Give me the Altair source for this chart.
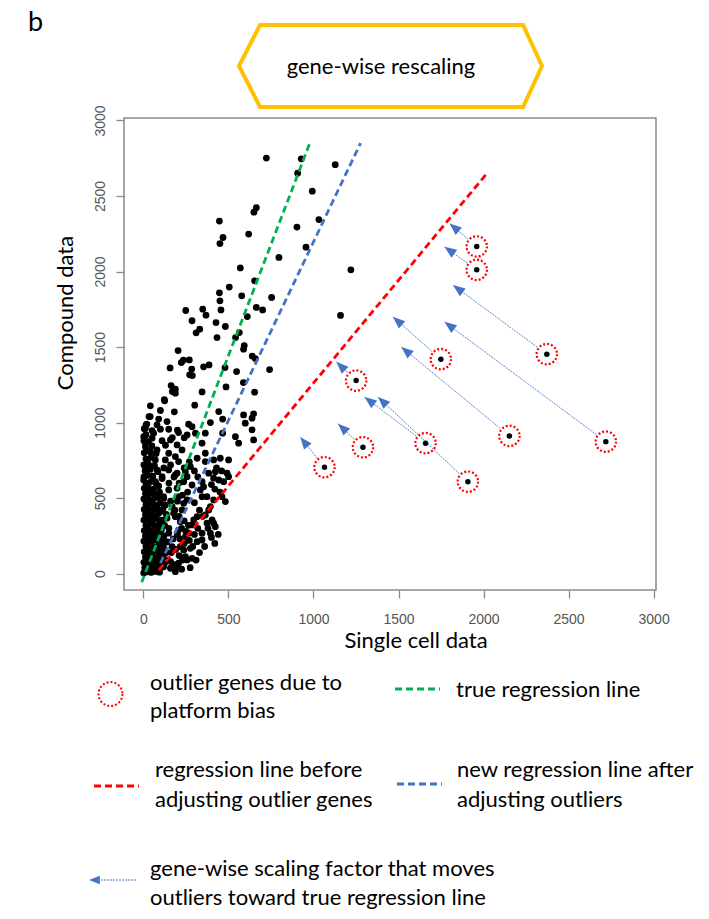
import math
import altair as alt
import pandas as pd

# ---------------- data ----------------
upper_points = [
    (723, 2751), (928, 2746), (907, 2651), (1128, 2707), (993, 2532), (664, 2422), (650, 2393),
    (447, 2334), (1032, 2344), (903, 2294), (619, 2248), (468, 2225), (450, 2185), (956, 2161),
    (797, 2093), (1220, 2011), (570, 2024), (654, 1938), (505, 1897), (447, 1859), (578, 1839),
    (754, 1828), (450, 1806), (456, 1746), (249, 1742), (349, 1751), (368, 1711), (664, 1762),
    (701, 1746), (611, 1702), (1159, 1709), (286, 1674), (427, 1662), (482, 1636), (331, 1618),
    (310, 1594), (564, 1596), (433, 1563), (542, 1563), (593, 1510), (589, 1486), (204, 1477),
    (640, 1440), (658, 1424), (235, 1413), (270, 1415), (223, 1397), (157, 1362), (284, 1354),
    (354, 1369), (386, 1382), (480, 1364), (548, 1338), (742, 1351), (272, 1316), (288, 1311),
    (588, 1265), (163, 1245), (188, 1221), (170, 1205), (345, 1203), (486, 1236), (654, 1201),
    (123, 1152), (188, 1195),
]
middle_points = [
    (41, 1111), (125, 1144), (182, 1071), (302, 1115), (443, 1073), (466, 1023), (589, 1051),
    (648, 1058), (90, 1023), (139, 1007), (16, 985), (266, 989), (394, 1000), (599, 996),
    (51, 947), (100, 956), (149, 956), (207, 934), (257, 918), (306, 930), (2, 907), (12, 864),
    (159, 885), (198, 852), (345, 864), (364, 930), (466, 930), (541, 907), (560, 864),
    (639, 952), (648, 885), (41, 808), (80, 819), (227, 819), (22, 753), (70, 753), (129, 753),
    (149, 797), (188, 775), (207, 742), (276, 709), (316, 764), (364, 797), (413, 753),
    (364, 742), (452, 764), (501, 753), (384, 665), (413, 632), (443, 620), (472, 609),
    (345, 609), (12, 687), (80, 687), (149, 687), (188, 654), (247, 675), (2, 620), (70, 609),
    (110, 642), (237, 609), (286, 587), (335, 554), (374, 510), (345, 510), (413, 488),
    (462, 510), (482, 477), (384, 422), (404, 356), (423, 311), (374, 334), (316, 377),
    (286, 323), (345, 268), (316, 212), (266, 268), (276, 168), (247, 113), (286, 102),
    (207, 69), (188, 13), (159, 36), (237, 157), (217, 179), (247, 245), (207, 289), (217, 344),
    (188, 377), (227, 422), (169, 444), (257, 488), (207, 510), (149, 554), (198, 566),
    (119, 510), (129, 455), (100, 411), (139, 367), (110, 311), (149, 268), (129, 212),
    (169, 179), (110, 135), (139, 91), (119, 46), (90, 13), (12, 963), (51, 897), (286, 973),
    (492, 665), (354, 576), (257, 642), (198, 665), (423, 675), (394, 444), (364, 389),
    (413, 334), (394, 268), (345, 223), (296, 356), (237, 466), (257, 91), (198, 46),
    (178, 400), (33, 1040), (639, 1029), (501, 642),
]
lower_points = [
    (160, 80), (185, 60), (210, 120), (230, 90), (165, 140), (190, 160), (215, 230), (240, 200),
    (175, 230), (200, 260), (225, 300), (250, 280), (270, 220), (290, 180), (300, 260),
    (320, 300), (265, 320), (240, 350), (210, 380), (185, 420), (160, 480), (200, 480),
    (230, 520), (260, 540), (300, 470), (330, 420), (350, 380), (380, 300), (400, 240),
    (420, 200), (440, 260), (360, 180), (330, 140), (310, 90), (275, 40), (225, 30), (150, 600),
    (180, 640), (210, 600), (240, 700), (270, 740), (300, 680), (320, 640), (420, 560),
    (450, 540), (400, 590), (430, 700), (460, 680), (120, 700), (160, 720), (130, 850),
    (170, 900), (110, 880), (200, 950), (240, 900), (100, 1080),
]
core_points = [
    (2, 5), (20, 12), (45, 8), (70, 15), (95, 10), (8, 40), (30, 45), (55, 38), (80, 48),
    (110, 42), (3, 75), (25, 80), (50, 70), (75, 85), (100, 78), (125, 70), (12, 110),
    (38, 115), (62, 105), (88, 118), (115, 108), (5, 145), (28, 150), (52, 140), (78, 155),
    (105, 148), (135, 140), (15, 180), (40, 185), (65, 175), (90, 190), (118, 178), (3, 215),
    (25, 220), (50, 212), (75, 225), (100, 218), (140, 210), (12, 250), (38, 255), (62, 245),
    (88, 262), (120, 250), (5, 285), (30, 290), (55, 280), (80, 295), (105, 288), (150, 300),
    (15, 320), (40, 325), (68, 318), (95, 330), (125, 320), (3, 355), (28, 360), (52, 350),
    (78, 365), (110, 355), (12, 390), (38, 395), (62, 385), (90, 400), (135, 392), (5, 425),
    (30, 430), (55, 420), (80, 435), (115, 428), (15, 460), (42, 465), (70, 455), (100, 470),
    (3, 495), (28, 500), (55, 490), (85, 505), (120, 500), (12, 530), (40, 535), (65, 525),
    (95, 540), (5, 565), (30, 570), (60, 560), (90, 580), (15, 600), (45, 610), (75, 598),
    (3, 640), (25, 650), (55, 645), (110, 630), (10, 680), (40, 690), (85, 675), (3, 720),
    (30, 725), (65, 715), (15, 760), (45, 770), (5, 800), (35, 810), (75, 795), (12, 840),
    (50, 845), (3, 880), (30, 875), (15, 920), (60, 930), (5, 960), (20, 990), (80, 985),
    (40, 1040),
]

# circled outlier genes and where their arrows point
outlier_x = [1960, 1960, 2372, 1749, 1251, 1291, 1659, 2152, 2719, 1065, 1908]
outlier_y = [2166, 2011, 1453, 1420, 1278, 837, 864, 912, 874, 705, 609]
arrow_tip_x = [1800, 1770, 1820, 1467, 1134, 1144, 1300, 1516, 1770, 922, 1379]
arrow_tip_y = [2318, 2164, 1910, 1700, 1402, 993, 1170, 1501, 1667, 905, 1170]

# regression lines (end points)
line_names = ["true regression line", "new regression line", "regression line before"]
line_colors = ["#00B050", "#4472C4", "#FF0000"]
line_x_start = [-10, 100, 90]
line_y_start = [-57, 69, 23]
line_x_end = [978, 1277, 2023]
line_y_end = [2848, 2850, 2654]

axis_ticks = [0, 500, 1000, 1500, 2000, 2500, 3000]

# ---------------- layout ----------------
X_DOMAIN = [-114, 3014]
Y_DOMAIN = [-108, 3016]
W, H = 532, 472
PL, PT = 124, 118
SX = W / (X_DOMAIN[1] - X_DOMAIN[0])
SY = H / (Y_DOMAIN[1] - Y_DOMAIN[0])
CIRCLE_R = 11.5
BLUE = "#4472C4"
FONT = "Lato"

points = pd.DataFrame(upper_points + middle_points + lower_points + core_points, columns=["x", "y"])

lines = pd.DataFrame({
    "line": line_names * 2,
    "x": line_x_start + line_x_end,
    "y": line_y_start + line_y_end,
    "order": [0, 0, 0, 1, 1, 1],
})

rows = []
for cx, cy, tx, ty in zip(outlier_x, outlier_y, arrow_tip_x, arrow_tip_y):
    dxp = (tx - cx) * SX
    dyp = -(ty - cy) * SY  # screen direction
    ln = math.hypot(dxp, dyp)
    ux, uy = dxp / ln, dyp / ln
    ang = math.degrees(math.atan2(ux, -uy)) % 360
    rows.append({
        "cx": cx, "cy": cy, "tx": tx, "ty": ty,
        "sx": cx + CIRCLE_R * ux / SX, "sy": cy - CIRCLE_R * uy / SY,
        "ang": ang,
    })
arrows = pd.DataFrame(rows)

xs = alt.Scale(domain=X_DOMAIN, nice=False, zero=False)
ys = alt.Scale(domain=Y_DOMAIN, nice=False, zero=False)

x_axis = alt.Axis(values=axis_ticks, format="d", title=None, labelPadding=14, labelBaseline="top",
                  labelAngle=0, labelFlush=False)
y_axis = alt.Axis(values=axis_ticks, format="d", title=None, labelAngle=270, labelAlign="center",
                  labelBaseline="bottom", labelPadding=9, labelFlush=False)

scatter = alt.Chart(points).mark_circle(size=46, color="black", opacity=1).encode(
    x=alt.X("x:Q", scale=xs, axis=x_axis),
    y=alt.Y("y:Q", scale=ys, axis=y_axis),
)

reg = alt.Chart(lines).mark_line(strokeDash=[7, 4], strokeWidth=2.8).encode(
    x=alt.X("x:Q", scale=xs),
    y=alt.Y("y:Q", scale=ys),
    order="order:Q",
    color=alt.Color("line:N", scale=alt.Scale(domain=line_names, range=line_colors), legend=None),
)

arrow_lines = alt.Chart(arrows).mark_rule(color=BLUE, strokeWidth=1, strokeDash=[2, 1], opacity=0.85).encode(
    x=alt.X("sx:Q", scale=xs), y=alt.Y("sy:Q", scale=ys), x2="tx:Q", y2="ty:Q"
)

HEAD = "M0,0L0.5,1.25L-0.5,1.25Z"
arrow_heads = alt.Chart(arrows).mark_point(shape=HEAD, filled=True, size=380, color=BLUE, opacity=1).encode(
    x=alt.X("tx:Q", scale=xs), y=alt.Y("ty:Q", scale=ys), angle=alt.Angle("ang:Q", scale=None)
)

out_dots = alt.Chart(arrows).mark_circle(size=30, color="black", opacity=1).encode(
    x=alt.X("cx:Q", scale=xs), y=alt.Y("cy:Q", scale=ys)
)
out_rings = alt.Chart(arrows).mark_point(shape="circle", size=math.pi * CIRCLE_R ** 2, filled=False,
                                         color="#FF0000", strokeWidth=2.2, strokeDash=[2, 2],
                                         opacity=1).encode(
    x=alt.X("cx:Q", scale=xs), y=alt.Y("cy:Q", scale=ys)
)


def text(s, px, py, size=22, angle=0, align="left", font=FONT):
    return alt.Chart(pd.DataFrame({"t": [s]})).mark_text(
        align=align, baseline="middle", fontSize=size, font=font, angle=angle, color="black"
    ).encode(x=alt.value(px - PL), y=alt.value(py - PT), text="t:N")


def dash(px0, px1, py, color):
    return alt.Chart(pd.DataFrame({"t": [0]})).mark_rule(
        color=color, strokeDash=[7, 4], strokeWidth=2.8
    ).encode(x=alt.value(px0 - PL), x2=alt.value(px1 - PL), y=alt.value(py - PT))


one = pd.DataFrame({"t": [0]})
HEX = "M-1,0L-0.861,-0.271L0.875,-0.271L1,0L0.875,0.271L-0.861,0.271Z"
hexagon = alt.Chart(one).mark_point(shape=HEX, size=303 ** 2, filled=False, color="#FFC000",
                                    strokeWidth=4, opacity=1, strokeJoin="miter").encode(
    x=alt.value(390.5 - PL), y=alt.value(66 - PT)
)

legend_ring = alt.Chart(one).mark_point(shape="circle", size=math.pi * 13.5 ** 2, filled=False,
                                        color="#FF0000", strokeWidth=2, strokeDash=[2, 2],
                                        opacity=1).encode(
    x=alt.value(110.5 - PL), y=alt.value(694 - PT)
)
legend_arrow_line = alt.Chart(one).mark_rule(color=BLUE, strokeWidth=1, strokeDash=[2, 1]).encode(
    x=alt.value(98 - PL), x2=alt.value(137 - PL), y=alt.value(880 - PT)
)
legend_arrow_head = alt.Chart(one).mark_point(shape=HEAD, filled=True, size=300, color=BLUE,
                                              opacity=1, angle=270).encode(
    x=alt.value(89 - PL), y=alt.value(880 - PT)
)

layers = [
    scatter, reg, arrow_lines, arrow_heads, out_rings, out_dots,
    hexagon,
    text("b", 28, 23, size=27),
    text("gene-wise rescaling", 381, 67, align="center"),
    text("Compound data", 66, 313, angle=270, align="center"),
    text("Single cell data", 416, 641, align="center"),
    legend_ring,
    text("outlier genes due to", 150, 683),
    text("platform bias", 150, 711),
    dash(395, 440, 689, "#00B050"),
    text("true regression line", 456, 690),
    dash(94, 139, 786, "#FF0000"),
    text("regression line before", 155, 770),
    text("adjusting outlier genes", 155, 800),
    dash(397, 442, 784, BLUE),
    text("new regression line after", 457, 770),
    text("adjusting outliers", 457, 800),
    legend_arrow_line, legend_arrow_head,
    text("gene-wise scaling factor that moves", 150, 869),
    text("outliers toward true regression line", 150, 898),
]

chart = alt.layer(*layers).properties(
    width=W, height=H,
    padding={"left": PL, "top": PT, "right": 709 - PL - W, "bottom": 919 - PT - H},
    autosize=alt.AutoSizeParams(type="none"),
    background="white",
).configure_view(
    stroke="#8a8a8a", strokeWidth=1.5
).configure_axis(
    grid=False, domain=False, tickColor="#8a8a8a", tickWidth=1.3, tickSize=8,
    labelColor="#555555", labelFont="Liberation Sans", labelFontSize=14,
)

chart.save("out.html", embed_options={"renderer": "svg", "actions": False})
